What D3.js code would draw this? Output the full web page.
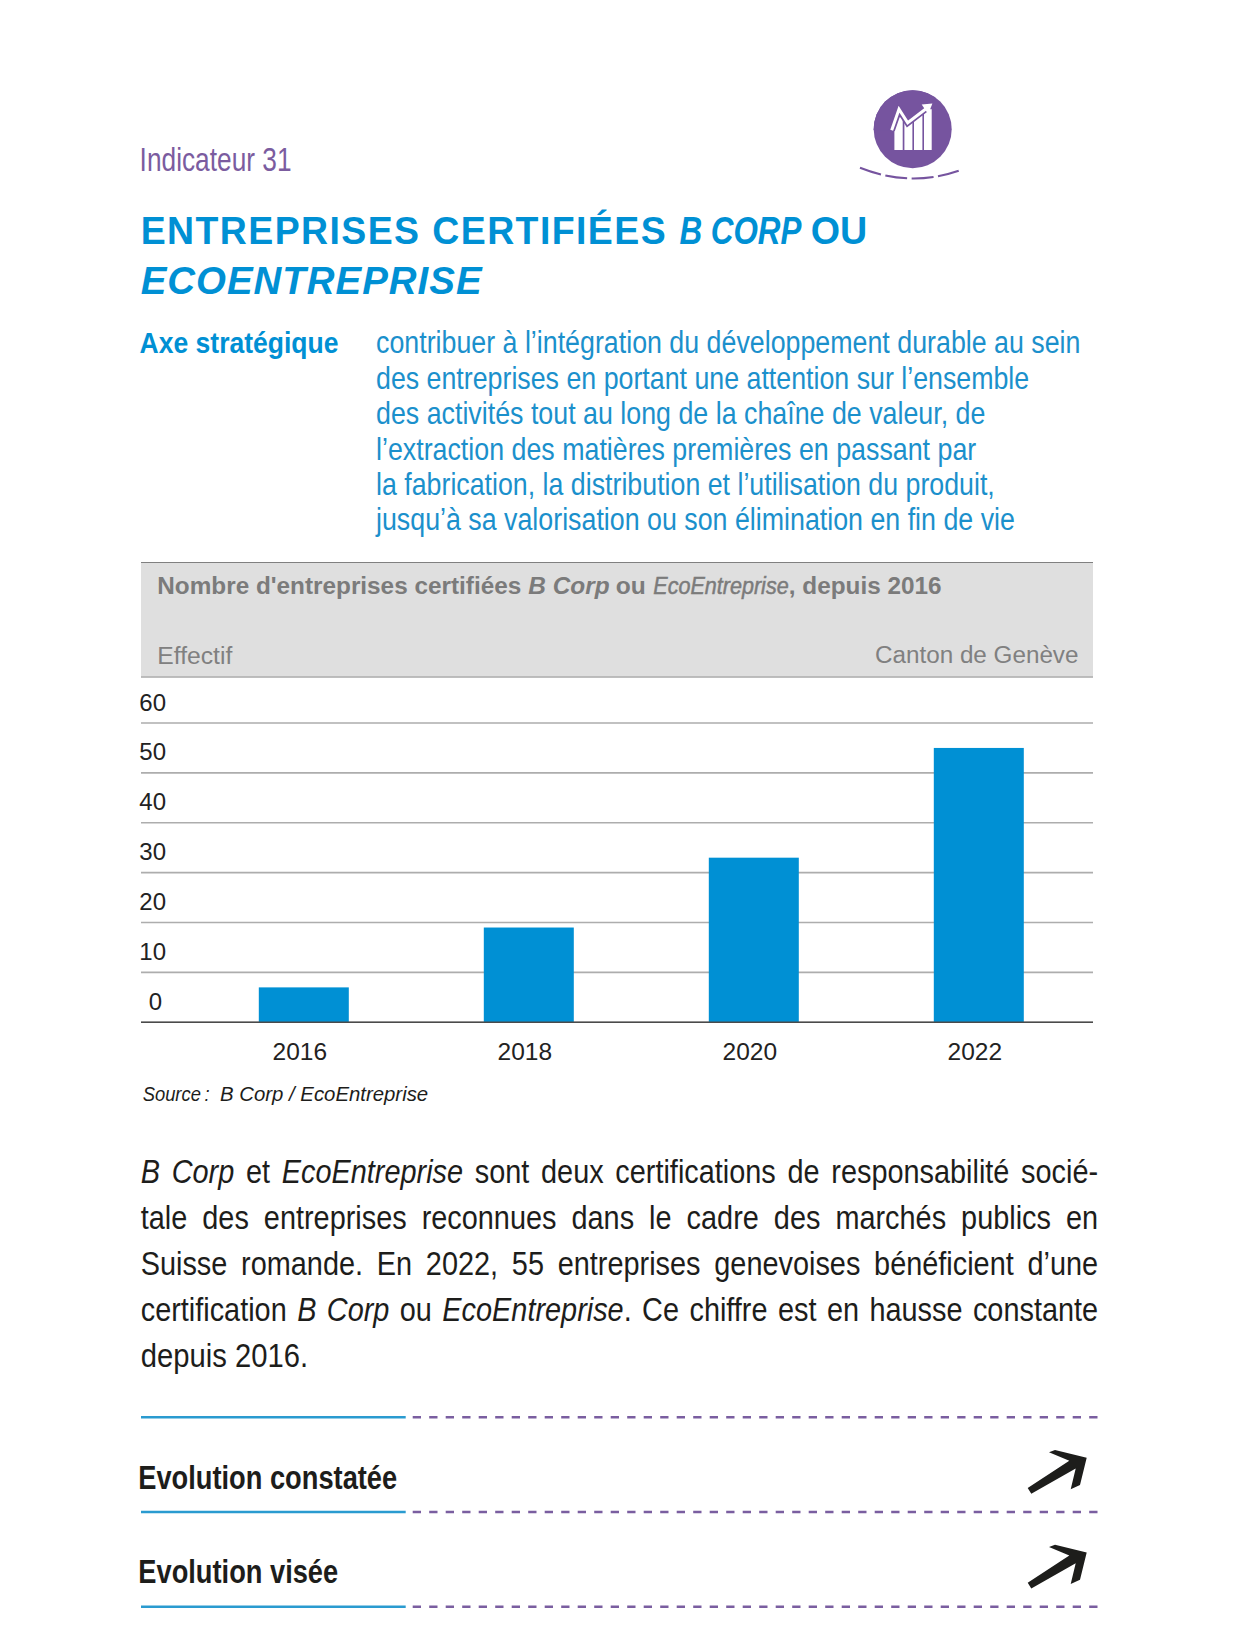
<!DOCTYPE html>
<html lang="fr">
<head>
<meta charset="utf-8">
<title>Indicateur 31</title>
<script src="https://cdn.jsdelivr.net/npm/d3@7"></script>
<style>
  html, body { margin: 0; padding: 0; background: #fff; }
  svg { display: block; font-family: "Liberation Sans", Arial, sans-serif; }
</style>
</head>
<body>
<script>
'use strict';

var years = ['2016', '2018', '2020', '2022'];
var companies = [7, 19, 33, 55];
var yTicks = [0, 10, 20, 30, 40, 50, 60];

var BLUE = '#0090d4';
var TEXT_BLUE = '#1b90cc';
var PURPLE = '#76549f';
var DARK = '#1d1d1b';
var GREY = '#7b7b7b';

var svg = d3.select('body').append('svg')
  .attr('width', 1236)
  .attr('height', 1634);

// Draws one line of text made of runs [string, italic]. With a width the line
// is squeezed to it, with sx + width the scale is fixed and word spacing justifies.
var textLine = function(runs, o) {
  var text = svg.append('text')
    .attr('font-size', o.size)
    .attr('font-weight', o.weight || 'normal')
    .attr('fill', o.fill);

  if (o.tracking) text.style('letter-spacing', o.tracking + 'px');
  if (o.heavy) text.attr('stroke', o.fill).attr('stroke-width', o.heavy);

  runs.forEach(function(run) {
    text.append('tspan')
      .attr('font-style', run[1] ? 'italic' : 'normal')
      .text(run[0]);
  });

  var length = text.node().getComputedTextLength();
  var sx = o.sx || (o.width ? o.width / length : 1);

  if (o.sx && o.justify) {
    var spaces = runs.map(function(run) { return run[0]; }).join('').split(' ').length - 1;
    text.style('word-spacing', (o.width / sx - length) / spaces + 'px');
  }

  text.attr('transform', 'translate(' + o.x + ',' + o.y + ') scale(' + sx + ',1)');
  return text;
};

// header
textLine([['Indicateur 31']], { x: 139.6, y: 170.7, size: 34, fill: '#7b5c9f', width: 152 });

var icon = svg.append('g').attr('transform', 'translate(912.7,129.2)');
icon.append('clipPath').attr('id', 'icon-clip')
  .append('circle').attr('r', 39);
icon.append('circle').attr('r', 39).attr('fill', PURPLE);
[[-18.3, -12, 8.3], [-8.3, -10, 8], [1.3, -14, 8.4], [11.3, -20, 7.7]].forEach(function(b) {
  icon.append('rect')
    .attr('x', b[0]).attr('y', b[1])
    .attr('width', b[2]).attr('height', 20.8 - b[1])
    .attr('fill', '#fff');
});
// purple area cuts the bars above the trend line
icon.append('path')
  .attr('clip-path', 'url(#icon-clip)')
  .attr('d', 'M-40,1 L-21,1 L-13.7,-20 L-5,-6.5 L14,-21 L30,-40 L-40,-40 Z')
  .attr('fill', PURPLE);
icon.append('path')
  .attr('d', 'M-21,1 L-13.7,-20 L-5,-6.5 L14,-21')
  .attr('fill', 'none')
  .attr('stroke', PURPLE)
  .attr('stroke-width', 6.5);
icon.append('path')
  .attr('d', 'M-21,1 L-13.7,-20 L-5,-6.5 L14,-21')
  .attr('fill', 'none')
  .attr('stroke', '#fff')
  .attr('stroke-width', 3);
icon.append('path')
  .attr('d', 'M9,-24.8 L19.7,-25.8 L15.5,-15 Z')
  .attr('fill', '#fff');

svg.append('path')
  .attr('d', 'M860,167.7 Q910,187.5 958.7,170.7')
  .attr('fill', 'none')
  .attr('stroke', PURPLE)
  .attr('stroke-width', 2)
  .attr('stroke-dasharray', '22 4.5');

// title
textLine([['ENTREPRISES CERTIFIÉES']], { x: 140.7, y: 244, size: 39, weight: 'bold', fill: BLUE, width: 526.5, tracking: 1.5 });
textLine([['B CORP', true]], { x: 679.4, y: 244, size: 39, weight: 'bold', fill: BLUE, width: 122 });
textLine([['OU']], { x: 810.7, y: 244, size: 39, weight: 'bold', fill: BLUE, width: 56.5 });
textLine([['ECOENTREPRISE', true]], { x: 140.7, y: 294, size: 39, weight: 'bold', fill: BLUE, width: 342, tracking: 1 });

// strategic axis
textLine([['Axe stratégique']], { x: 139.6, y: 352.7, size: 30, weight: 'bold', fill: BLUE, width: 199 });

var axisLines = [
  ['contribuer à l’intégration du développement durable au sein', 704.6, 353],
  ['des entreprises en portant une attention sur l’ensemble', 653.5, 388.6],
  ['des activités tout au long de la chaîne de valeur, de', 609.7, 424.3],
  ['l’extraction des matières premières en passant par', 600.4, 459.6],
  ['la fabrication, la distribution et l’utilisation du produit,', 619, 494.8],
  ['jusqu’à sa valorisation ou son élimination en fin de vie', 639, 530.3]
];
axisLines.forEach(function(line) {
  textLine([[line[0]]], { x: 376, y: line[2], size: 31, fill: TEXT_BLUE, width: line[1] });
});

// grey chart header
var left = 141;
var right = 1093;

svg.append('rect')
  .attr('x', left).attr('y', 562.5)
  .attr('width', right - left).attr('height', 114)
  .attr('fill', '#dfdfdf');
svg.append('line')
  .attr('x1', left).attr('x2', right)
  .attr('y1', 562.5).attr('y2', 562.5)
  .attr('stroke', '#808080').attr('stroke-width', 1.2);
svg.append('line')
  .attr('x1', left).attr('x2', right)
  .attr('y1', 677).attr('y2', 677)
  .attr('stroke', '#a9a9a9').attr('stroke-width', 1.5);

textLine([['Nombre d\'entreprises certifiées']], { x: 157.3, y: 593.5, size: 24, weight: 'bold', fill: GREY, width: 364 });
textLine([['B Corp', true]], { x: 528.3, y: 593.5, size: 24, weight: 'bold', fill: GREY, width: 81.3 });
textLine([['ou']], { x: 615.8, y: 593.5, size: 24, weight: 'bold', fill: GREY, width: 30 });
textLine([['EcoEntreprise', true]], { x: 653.3, y: 593.5, size: 24, fill: GREY, width: 135.5, heavy: 0.5 });
textLine([[', depuis 2016']], { x: 788.8, y: 593.5, size: 24, weight: 'bold', fill: GREY, width: 152.8 });
textLine([['Effectif']], { x: 157.3, y: 663.7, size: 24.5, fill: '#808080', width: 75 });
textLine([['Canton de Genève']], { x: 875, y: 663.3, size: 24.5, fill: '#808080', width: 203.6 });

// chart
var y = d3.scaleLinear()
  .domain([0, 60])
  .range([1022.3, 723]);

var x = d3.scaleBand()
  .domain(years)
  .range([191.3, 1091.3])
  .paddingInner(0.6)
  .paddingOuter(0.3);

var yAxis = svg.append('g')
  .attr('transform', 'translate(' + left + ',0)')
  .call(d3.axisLeft(y).tickValues(yTicks).tickSize(-(right - left)).offset(0));

yAxis.select('.domain').remove();
yAxis.selectAll('.tick line')
  .attr('stroke', '#adadad')
  .attr('stroke-width', 1.6);
yAxis.selectAll('.tick text')
  .attr('x', function(d) { return d === 0 ? 21 : 25; })
  .attr('y', -12.5)
  .attr('dy', 0)
  .attr('fill', '#222')
  .attr('font-family', null)
  .attr('font-size', 24);

svg.append('g')
  .selectAll('rect')
  .data(companies)
  .enter()
  .append('rect')
  .attr('x', function(d, i) { return x(years[i]); })
  .attr('y', function(d) { return y(d); })
  .attr('width', x.bandwidth())
  .attr('height', function(d) { return y(0) - y(d); })
  .attr('fill', BLUE);

svg.append('line')
  .attr('x1', left).attr('x2', right)
  .attr('y1', y(0)).attr('y2', y(0))
  .attr('stroke', '#4a4a4a')
  .attr('stroke-width', 1.5);

var xAxis = svg.append('g')
  .attr('transform', 'translate(0,' + y(0) + ')')
  .call(d3.axisBottom(x).tickSize(0).offset(0));

xAxis.select('.domain').remove();
xAxis.selectAll('.tick text')
  .attr('x', -4)
  .attr('y', 38)
  .attr('dy', 0)
  .attr('fill', '#222')
  .attr('font-family', null)
  .attr('font-size', 24.5);

textLine([['Source\u2009:', true]], { x: 142.7, y: 1100.7, size: 20, fill: DARK, width: 67 });
textLine([['B Corp / EcoEntreprise', true]], { x: 220, y: 1100.7, size: 20, fill: DARK, width: 208.3 });

// comment paragraph
var PARA = { x: 140.7, size: 33, fill: DARK, sx: 0.875, width: 957.6, justify: true };

[
  [[['B Corp', true], [' et '], ['EcoEntreprise', true], [' sont deux certifications de responsabilité socié-']], 1183.3],
  [[['tale des entreprises reconnues dans le cadre des marchés publics en']], 1229.3],
  [[['Suisse romande. En 2022, 55 entreprises genevoises bénéficient d’une']], 1275],
  [[['certification '], ['B Corp', true], [' ou '], ['EcoEntreprise', true], ['. Ce chiffre est en hausse constante']], 1320.7]
].forEach(function(line) {
  textLine(line[0], Object.assign({}, PARA, { y: line[1] }));
});
textLine([['depuis 2016.']], { x: 140.7, y: 1366.7, size: 33, fill: DARK, width: 167.5 });

// evolution block
[1417.3, 1512, 1606.7].forEach(function(ruleY) {
  svg.append('line')
    .attr('x1', 141).attr('x2', 405.7)
    .attr('y1', ruleY).attr('y2', ruleY)
    .attr('stroke', '#2a9bd0')
    .attr('stroke-width', 2.4);
  svg.append('line')
    .attr('x1', 412.7).attr('x2', 1099)
    .attr('y1', ruleY).attr('y2', ruleY)
    .attr('stroke', '#7a5ea0')
    .attr('stroke-width', 2.4)
    .attr('stroke-dasharray', '8.3 8.2');
});

textLine([['Evolution constatée']], { x: 138.3, y: 1489.3, size: 33, weight: 'bold', fill: DARK, width: 259 });
textLine([['Evolution visée']], { x: 138.3, y: 1582.7, size: 33, weight: 'bold', fill: DARK, width: 200 });

[0, 94.7].forEach(function(dy) {
  svg.append('path')
    .attr('transform', 'translate(0,' + dy + ')')
    .attr('d', 'M1027.7,1488 L1031.3,1493.7 L1075.7,1468.5 L1070.7,1489.3 L1080,1485 L1086.7,1457.7 L1055,1450 L1049,1452.3 L1069.3,1460.7 Z')
    .attr('fill', DARK);
});
</script>
</body>
</html>
